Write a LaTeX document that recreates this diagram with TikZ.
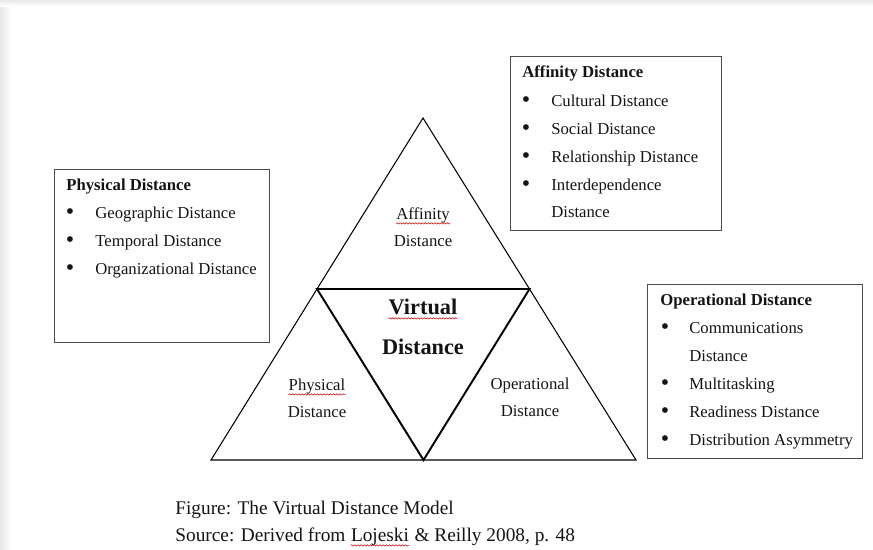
\documentclass[tikz,border=0pt]{standalone}
\usepackage{fontspec}
\setmainfont{Liberation Serif}
\usetikzlibrary{calc,decorations.pathmorphing}

\tikzset{
  infobox/.style={draw=black!70, line width=0.8pt, anchor=north west, inner sep=0pt},
  boxhead/.style={anchor=west, inner sep=0pt, text height=1.6ex, text depth=0.4ex, font=\fontsize{9.5}{11}\selectfont\bfseries},
  boxitem/.style={anchor=west, inner sep=0pt, text height=1.6ex, text depth=0.4ex, font=\fontsize{9.5}{11}\selectfont},
  bulletmark/.style={inner sep=0pt, font=\fontsize{12}{13}\selectfont\bfseries},
  trilabel/.style={inner sep=0pt, text height=1.6ex, text depth=0.4ex, font=\fontsize{9.5}{11}\selectfont},
  bigword/.style={inner sep=0pt, text height=1.6ex, text depth=0.4ex, font=\fontsize{12.7}{14}\selectfont\bfseries},
  captext/.style={inner sep=0pt, text height=1.6ex, text depth=0.4ex, font=\fontsize{11}{13}\selectfont},
  squiggle/.style={draw=red!75!black, line width=0.3pt, decorate, decoration={snake, amplitude=0.4pt, segment length=1.8pt}},
}

\begin{document}
\begin{tikzpicture}[x=0.02cm, y=-0.02cm, text=black!92]
\useasboundingbox (0,0) rectangle (873,549);
% page shadow of the screenshot
\shade[left color=black!9, right color=white] (0,0) rectangle (11,549);
\shade[top color=black!9, bottom color=white] (0,0) rectangle (873,6);

% triangle
\coordinate (apex) at (423,118);
\coordinate (botleft) at (211,460);
\coordinate (botright) at (636,460);
\coordinate (midleft) at ($(apex)!0.5!(botleft)$);
\coordinate (midright) at ($(apex)!0.5!(botright)$);
\coordinate (midbot) at ($(botleft)!0.5!(botright)$);
\draw[line width=0.6pt] (apex) -- (botleft) -- (botright) -- cycle;
\draw[line width=1.1pt, line join=miter] (midleft) -- (midright) -- (midbot) -- cycle;

% labels in the triangle
\node[trilabel] (affword) at (423,215) {Affinity};
\node[trilabel] (affdist) at (423,242) {Distance};
\node[bigword] (virtword) at (423,310) {Virtual};
\node[bigword] (virtdist) at (423,350) {Distance};
\node[trilabel] (physword) at (317,386) {Physical};
\node[trilabel] (physdist) at (317,413) {Distance};
\node[trilabel] (operword) at (530,385) {Operational};
\node[trilabel] (operdist) at (530,412) {Distance};
\draw[squiggle] (affword.south west) -- (affword.south east);
\draw[squiggle] (physword.south west) -- (physword.south east);
\draw[squiggle] (virtword.south west) -- (virtword.south east);

% physical distance box
\node[infobox, minimum width=4.3cm, minimum height=3.46cm] (physbox) at (54,169) {};
\node[boxhead] (physhead) at (66,186) {Physical Distance};
\node[bulletmark] (physdot1) at (70,214) {\textbullet};
\node[boxitem] (physitem1) at (95,214) {Geographic Distance};
\node[bulletmark] (physdot2) at (70,242) {\textbullet};
\node[boxitem] (physitem2) at (95,242) {Temporal Distance};
\node[bulletmark] (physdot3) at (70,270) {\textbullet};
\node[boxitem] (physitem3) at (95,270) {Organizational Distance};

% affinity distance box
\node[infobox, minimum width=4.22cm, minimum height=3.48cm] (affbox) at (510,56) {};
\node[boxhead] (affhead) at (522,73) {Affinity Distance};
\node[bulletmark] (affdot1) at (526,102) {\textbullet};
\node[boxitem] (affitem1) at (551,102) {Cultural Distance};
\node[bulletmark] (affdot2) at (526,130) {\textbullet};
\node[boxitem] (affitem2) at (551,130) {Social Distance};
\node[bulletmark] (affdot3) at (526,158) {\textbullet};
\node[boxitem] (affitem3) at (551,158) {Relationship Distance};
\node[bulletmark] (affdot4) at (526,186) {\textbullet};
\node[boxitem] (affitem4) at (551,186) {Interdependence};
\node[boxitem] (affitem4b) at (551,213) {Distance};

% operational distance box
\node[infobox, minimum width=4.3cm, minimum height=3.48cm] (operbox) at (647,284) {};
\node[boxhead] (operhead) at (660,301) {Operational Distance};
\node[bulletmark] (operdot1) at (665,329) {\textbullet};
\node[boxitem] (operitem1) at (689,329) {Communications};
\node[boxitem] (operitem1b) at (689,357) {Distance};
\node[bulletmark] (operdot2) at (665,385) {\textbullet};
\node[boxitem] (operitem2) at (689,385) {Multitasking};
\node[bulletmark] (operdot3) at (665,413) {\textbullet};
\node[boxitem] (operitem3) at (689,413) {Readiness Distance};
\node[bulletmark] (operdot4) at (665,441) {\textbullet};
\node[boxitem] (operitem4) at (689,441) {Distribution Asymmetry};

% caption
\node[captext, anchor=west] (capfig) at (175,510) {Figure: The Virtual Distance Model};
\node[captext, anchor=west] (capsrc) at (175,537) {Source: Derived from};
\node[captext, anchor=base west] (capname) at ([xshift=2.75pt]capsrc.base east) {Lojeski};
\node[captext, anchor=base west] (caprest) at ([xshift=2.75pt]capname.base east) {\& Reilly 2008, p. 48};
\draw[squiggle] (capname.south west) -- (capname.south east);
\end{tikzpicture}
\end{document}
